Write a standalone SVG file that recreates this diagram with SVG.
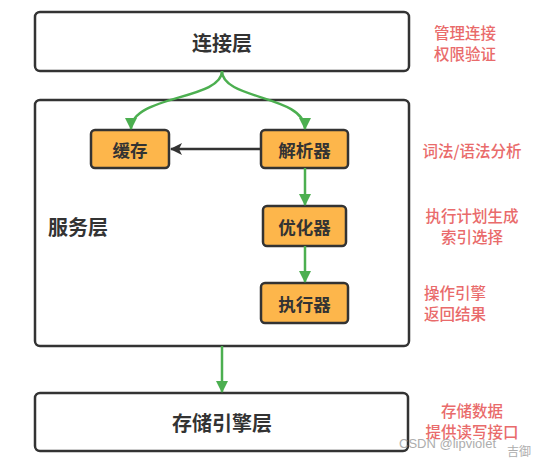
<svg xmlns="http://www.w3.org/2000/svg" width="533" height="459" viewBox="0 0 533 459">
<defs>
<style>
.layer{fill:#fff;stroke:#333;stroke-width:2.5}
.proc{fill:#FDB64B;stroke:#333;stroke-width:2.5}
.t{font-family:"Noto Sans CJK SC","Noto Sans",sans-serif;fill:#333;text-anchor:middle;dominant-baseline:central}
.big{font-size:20px;font-weight:600}
.mid{font-size:17.5px;font-weight:600}
.note{font-family:"Noto Sans CJK SC","Noto Sans",sans-serif;fill:#E96B6B;font-size:15.5px;font-weight:500;text-anchor:middle;dominant-baseline:central}
.g{fill:none;stroke:#4CAF50;stroke-width:2.5}
.k{fill:none;stroke:#333;stroke-width:2.5}
.wm{font-family:"Liberation Sans","Noto Sans CJK SC",sans-serif;fill:#999;font-size:13px;opacity:0.8}
</style>
<marker id="ag" viewBox="0 0 12 12" refX="11" refY="6" markerWidth="12" markerHeight="12" markerUnits="userSpaceOnUse" orient="auto">
<path d="M0,0 L12,6 L0,12 z" fill="#4CAF50"/>
</marker>
<marker id="ak" viewBox="0 0 12 12" refX="11" refY="6" markerWidth="12" markerHeight="12" markerUnits="userSpaceOnUse" orient="auto">
<path d="M0,0 L12,6 L0,12 L3,6 z" fill="#333"/>
</marker>
</defs>

<g id="connect-layer">
<rect class="layer" x="35" y="12" width="374" height="59" rx="5"/>
<text class="t big" x="222" y="42">连接层</text>
</g>
<g id="service-layer">
<rect class="layer" x="35" y="100" width="374" height="246" rx="5"/>
<text class="t big" x="78" y="226">服务层</text>
</g>
<g id="storage-layer">
<rect class="layer" x="35" y="393" width="373" height="58" rx="5"/>
<text class="t big" x="222" y="422">存储引擎层</text>
</g>

<g id="cache">
<rect class="proc" x="91" y="130" width="78" height="38" rx="4"/>
<text class="t mid" x="130" y="149">缓存</text>
</g>
<g id="parser">
<rect class="proc" x="261" y="130" width="87" height="38" rx="4"/>
<text class="t mid" x="304.5" y="149">解析器</text>
</g>
<g id="optimizer">
<rect class="proc" x="263" y="206" width="83" height="40" rx="4"/>
<text class="t mid" x="304.5" y="226">优化器</text>
</g>
<g id="executor">
<rect class="proc" x="261" y="283" width="87" height="40" rx="4"/>
<text class="t mid" x="304.5" y="303">执行器</text>
</g>

<g id="connectors">
<path class="g" d="M222,71 C222,100 131,95 131,129" marker-end="url(#ag)"/>
<path class="g" d="M222,71 C222,100 305,95 305,129" marker-end="url(#ag)"/>
<path class="k" d="M261,149 L171,149" marker-end="url(#ak)"/>
<path class="g" d="M305,168 L305,205" marker-end="url(#ag)"/>
<path class="g" d="M305,246 L305,282" marker-end="url(#ag)"/>
<path class="g" d="M222,346 L222,392" marker-end="url(#ag)"/>
</g>

<g id="notes">
<text class="note" x="465" y="31.5">管理连接</text>
<text class="note" x="465" y="52.5">权限验证</text>
<text class="note" x="472" y="150">词法/语法分析</text>
<text class="note" x="472" y="214.5">执行计划生成</text>
<text class="note" x="472" y="235.5">索引选择</text>
<text class="note" x="424" y="291.5" style="text-anchor:start">操作引擎</text>
<text class="note" x="424" y="312.5" style="text-anchor:start">返回结果</text>
<text class="note" x="472" y="409.5">存储数据</text>
<text class="note" x="472" y="430.5">提供读写接口</text>
</g>

<g id="watermark">
<text class="wm" x="399" y="448">CSDN @lipviolet</text>
<text class="wm" x="507" y="456" style="font-size:12px">吉御</text>
</g>
</svg>
